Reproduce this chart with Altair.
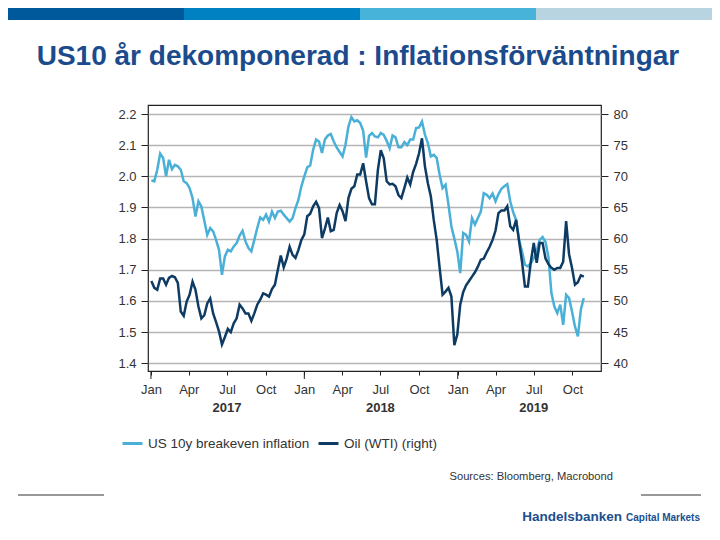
import altair as alt
import pandas as pd

TITLE = "US10 år dekomponerad : Inflationsförväntningar"
SERIES = ["US 10y breakeven inflation", "Oil (WTI) (right)"]
COLORS = ["#4ab0d7", "#0d3b63"]
BAND_COLORS = ["#00599b", "#0081c1", "#48b3d9", "#b9d4e1"]
SOURCE = "Sources: Bloomberg, Macrobond"
BRAND = "Handelsbanken"
BRAND_SUB = "Capital Markets"
FIRST_WEEK = "2017-01-02"

# weekly readings, US 10y breakeven inflation (%)
breakeven = [
    1.987, 1.984, 2.021, 2.073, 2.059, 2.000, 2.053, 2.023, 2.037, 2.032,
    2.021, 1.984, 1.978, 1.962, 1.930, 1.871, 1.920, 1.903, 1.857, 1.812,
    1.834, 1.823, 1.796, 1.764, 1.684, 1.743, 1.764, 1.759, 1.775, 1.786,
    1.810, 1.825, 1.791, 1.770, 1.759, 1.796, 1.834, 1.868, 1.860, 1.877,
    1.855, 1.887, 1.866, 1.887, 1.890, 1.877, 1.866, 1.855, 1.866, 1.898,
    1.925, 1.968, 2.000, 2.029, 2.035, 2.085, 2.118, 2.112, 2.075, 2.118,
    2.131, 2.136, 2.112, 2.093, 2.078, 2.064, 2.102, 2.160, 2.190, 2.176,
    2.180, 2.171, 2.146, 2.060, 2.130, 2.139, 2.128, 2.125, 2.139, 2.133,
    2.114, 2.090, 2.131, 2.125, 2.093, 2.093, 2.110, 2.100, 2.118, 2.118,
    2.155, 2.157, 2.176, 2.134, 2.107, 2.064, 2.069, 2.059, 2.005, 1.962,
    1.973, 1.909, 1.839, 1.800, 1.759, 1.689, 1.818, 1.812, 1.791, 1.866,
    1.845, 1.866, 1.887, 1.946, 1.941, 1.930, 1.945, 1.920, 1.943, 1.960,
    1.968, 1.975, 1.920, 1.885, 1.860, 1.796, 1.759, 1.716, 1.711, 1.721,
    1.737, 1.761, 1.796, 1.805, 1.789, 1.740, 1.625, 1.582, 1.561, 1.588,
    1.523, 1.620, 1.609, 1.566, 1.518, 1.486, 1.572, 1.609,
]

# weekly readings, WTI oil (USD/bbl), right axis
oil = [
    53.2, 52.1, 51.8, 53.6, 53.6, 52.6, 53.7, 54.0, 53.8, 52.9,
    48.3, 47.6, 49.9, 51.0, 53.1, 51.8, 49.1, 47.2, 47.7, 49.6,
    50.4, 48.0, 46.6, 45.1, 43.0, 44.2, 45.5, 45.0, 46.4, 47.2,
    49.4, 48.8, 48.0, 48.0, 46.8, 48.0, 49.4, 50.2, 51.2, 51.0,
    50.7, 51.9, 52.6, 55.0, 57.3, 55.4, 56.8, 58.7, 57.4, 56.9,
    58.2, 59.8, 60.7, 63.6, 64.0, 65.2, 65.9, 64.9, 60.1, 61.6,
    63.4, 61.2, 61.4, 64.1, 65.4, 64.4, 62.8, 66.5, 68.0, 68.4,
    70.3, 70.3, 72.1, 69.2, 66.5, 65.5, 65.5, 71.0, 74.2, 72.9,
    69.2, 68.7, 68.8, 68.4, 67.0, 66.5, 68.1, 69.8, 68.7, 70.7,
    72.0, 73.7, 76.1, 71.6, 68.9, 66.8, 63.0, 59.8, 55.3, 51.0,
    51.5, 52.1, 50.7, 42.9, 44.6, 49.4, 51.4, 52.5, 53.2, 53.9,
    54.6, 55.5, 56.6, 56.8, 57.8, 58.7, 59.8, 61.3, 64.1, 64.5,
    64.5, 65.2, 62.0, 61.4, 63.0, 59.6, 56.3, 52.3, 52.3, 56.3,
    59.3, 56.1, 59.3, 59.3, 56.8, 55.9, 55.3, 55.0, 55.3, 55.3,
    56.3, 62.8, 57.5, 55.3, 52.6, 53.0, 54.1, 53.9,
]

years = [2017, 2018, 2019]
quarter_months = [1, 4, 7, 10]
left_ticks = [1.4, 1.5, 1.6, 1.7, 1.8, 1.9, 2.0, 2.1, 2.2]
right_ticks = [40, 45, 50, 55, 60, 65, 70, 75, 80]
left_domain = [1.375, 2.229]
right_domain = [38.75, 81.45]

W, H = 453, 266
FONT = "Liberation Sans"

dates = pd.date_range(FIRST_WEEK, periods=len(breakeven), freq="7D")
light_df = pd.DataFrame({"date": dates, "value": breakeven, "series": SERIES[0]})
dark_df = pd.DataFrame({"date": dates, "value": oil, "series": SERIES[1]})
yr = pd.DataFrame({
    "year": [str(y) for y in years],
    "date": pd.to_datetime([f"{y}-01-01" for y in years]),
    "mid": pd.to_datetime([f"{y}-07-01" for y in years]),
})
one = pd.DataFrame({"k": [0]})

xscale = alt.Scale(domain=[alt.DateTime(year=2016, month=12, date=25),
                           alt.DateTime(year=2019, month=12, date=8)])
x_axis = alt.Axis(
    values=[alt.DateTime(year=y, month=m, date=1) for y in years for m in quarter_months],
    format="%b", title=None, grid=False, domain=False, tickSize=4, tickColor="#222",
    labelPadding=8, labelFontSize=13, labelColor="#333", labelFont=FONT,
)

color_scale = alt.Scale(domain=SERIES, range=COLORS)
legend = alt.Legend(
    title=None, orient="none", legendX=-27, legendY=327, direction="horizontal",
    symbolType="stroke", symbolSize=400, symbolStrokeWidth=3, labelFontSize=13.5,
    labelColor="#333", labelFont=FONT, columnPadding=2, labelOffset=4, labelLimit=400,
)

light = alt.Chart(light_df).mark_line(strokeWidth=2.5).encode(
    x=alt.X("date:T", scale=xscale, axis=x_axis),
    y=alt.Y("value:Q",
            scale=alt.Scale(domain=left_domain, nice=False, zero=False),
            axis=alt.Axis(orient="left", values=left_ticks, format=".1f", title=None,
                          tickSize=7, tickColor="#222", labelPadding=5, domain=False,
                          grid=True, gridColor="#b5b5b5", gridWidth=1.5,
                          labelFontSize=13, labelColor="#333", labelFont=FONT)),
    color=alt.Color("series:N", scale=color_scale, legend=legend),
)

dark = alt.Chart(dark_df).mark_line(strokeWidth=2.5).encode(
    x=alt.X("date:T", scale=xscale, axis=x_axis),
    y=alt.Y("value:Q",
            scale=alt.Scale(domain=right_domain, nice=False, zero=False),
            axis=alt.Axis(orient="right", values=right_ticks, format="d", title=None,
                          tickSize=7, tickColor="#222", labelPadding=5, domain=False,
                          grid=False, labelFontSize=13, labelColor="#333", labelFont=FONT)),
    color=alt.Color("series:N", scale=color_scale, legend=legend),
)

year_ticks = alt.Chart(yr).mark_rule(color="#222", strokeWidth=1).encode(
    x=alt.X("date:T", scale=xscale, axis=x_axis),
    y=alt.value(H), y2=alt.value(H + 8),
)
year_labels = alt.Chart(yr).mark_text(
    fontSize=13, fontWeight="bold", color="#333", baseline="middle", font=FONT
).encode(
    x=alt.X("mid:T", scale=xscale, axis=x_axis),
    y=alt.value(H + 37),
    text="year:N",
)

bands = [
    alt.Chart(one).mark_rect(color=c).encode(
        x=alt.value(-140 + 176 * i), x2=alt.value(-140 + 176 * (i + 1)),
        y=alt.value(-97), y2=alt.value(-85))
    for i, c in enumerate(BAND_COLORS)
]

title = alt.Chart(one).mark_text(
    text=TITLE, align="center", baseline="alphabetic", fontSize=28,
    fontWeight="bold", color="#1b4b8c", font=FONT,
).encode(x=alt.value(210), y=alt.value(-40))

source = alt.Chart(one).mark_text(
    text=SOURCE, align="right", baseline="alphabetic", fontSize=11.2,
    color="#333", font=FONT,
).encode(x=alt.value(465), y=alt.value(375))

brand = alt.Chart(one).mark_text(
    text=BRAND, align="right", baseline="alphabetic", fontSize=13.5,
    fontWeight="bold", color="#1c4f8f", font=FONT,
).encode(x=alt.value(474), y=alt.value(416))

brand_sub = alt.Chart(one).mark_text(
    text=BRAND_SUB, align="right", baseline="alphabetic", fontSize=10,
    fontWeight="bold", color="#1c4f8f", font=FONT,
).encode(x=alt.value(552), y=alt.value(416))

rule_left = alt.Chart(one).mark_rule(color="#333", strokeWidth=1).encode(
    x=alt.value(-130), x2=alt.value(-44), y=alt.value(390))
rule_right = alt.Chart(one).mark_rule(color="#333", strokeWidth=1).encode(
    x=alt.value(493), x2=alt.value(553), y=alt.value(390))

chart = alt.layer(
    *bands, title, light, dark, year_ticks, year_labels,
    source, brand, brand_sub, rule_left, rule_right,
).resolve_scale(
    y="independent"
).properties(
    width=W, height=H,
    padding={"left": 140, "top": 97, "right": 111, "bottom": 161},
    autosize=alt.AutoSizeParams(type="none"),
).configure_view(
    stroke="#222", strokeWidth=1.2
)

chart.save("out.html", embed_options={"renderer": "svg", "actions": False})
